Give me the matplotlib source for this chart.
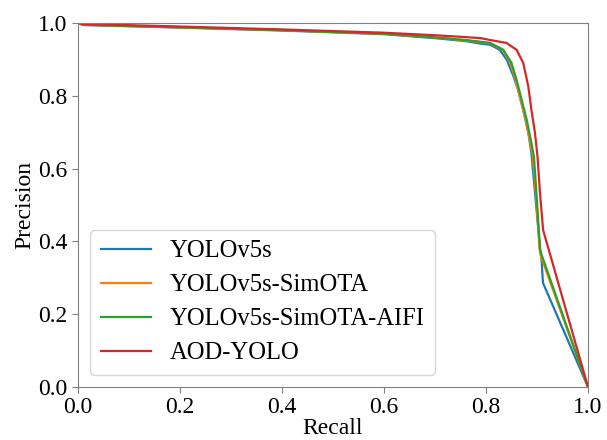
import numpy as np
import matplotlib.pyplot as plt

plt.rcParams['font.family'] = ['Liberation Serif', 'DejaVu Serif']

LABELS = ["YOLOv5s", "YOLOv5s-SimOTA", "YOLOv5s-SimOTA-AIFI", "AOD-YOLO"]
COLORS = ["#1f77b4", "#ff7f0e", "#2ca02c", "#d62728"]

# recall / precision pairs for each model
recall_v5s = [0.0, 0.01, 0.2, 0.4, 0.6, 0.7, 0.76, 0.79, 0.808, 0.827, 0.841, 0.854,
              0.863, 0.873, 0.883, 0.889, 0.897, 0.906, 0.909, 0.911, 0.912, 1.0]
prec_v5s = [1.0, 0.994, 0.987, 0.979, 0.969, 0.958, 0.950, 0.943, 0.940, 0.926, 0.898,
            0.853, 0.816, 0.761, 0.698, 0.643, 0.520, 0.380, 0.349, 0.300, 0.285, 0.0]

recall_simota = [0.0, 0.01, 0.2, 0.4, 0.6, 0.7, 0.76, 0.79, 0.808, 0.833, 0.848, 0.858,
                 0.868, 0.878, 0.887, 0.892, 0.899, 0.905, 0.908, 1.0]
prec_simota = [1.0, 0.995, 0.988, 0.980, 0.970, 0.960, 0.952, 0.947, 0.944, 0.926,
               0.890, 0.843, 0.788, 0.733, 0.670, 0.632, 0.510, 0.380, 0.358, 0.0]

recall_aifi = [0.0, 0.01, 0.2, 0.4, 0.6, 0.7, 0.76, 0.79, 0.808, 0.834, 0.850, 0.860,
               0.870, 0.880, 0.889, 0.894, 0.900, 0.906, 0.909, 1.0]
prec_aifi = [1.0, 0.995, 0.988, 0.980, 0.970, 0.960, 0.953, 0.948, 0.945, 0.926, 0.890,
             0.843, 0.788, 0.733, 0.670, 0.632, 0.510, 0.376, 0.363, 0.0]

recall_aod = [0.0, 0.01, 0.2, 0.4, 0.6, 0.7, 0.76, 0.79, 0.808, 0.840, 0.860, 0.873,
              0.883, 0.889, 0.896, 0.901, 0.906, 0.912, 1.0]
prec_aod = [1.0, 0.997, 0.990, 0.982, 0.973, 0.966, 0.961, 0.958, 0.953, 0.945, 0.926,
            0.890, 0.825, 0.761, 0.698, 0.633, 0.530, 0.431, 0.0]

recalls = [recall_v5s, recall_simota, recall_aifi, recall_aod]
precisions = [prec_v5s, prec_simota, prec_aifi, prec_aod]

fig = plt.figure(figsize=(6.07, 4.4), dpi=100)
ax = fig.add_axes([0.1285, 0.1205, 0.8402, 0.8275])

for r, p, lab, col in zip(recalls, precisions, LABELS, COLORS):
    ax.plot(r, p, color=col, lw=1.6, label=lab)

ax.set_xlim(0, 1)
ax.set_ylim(0, 1)
ax.set_xticks(np.arange(0, 1.01, 0.2))
ax.set_yticks(np.arange(0, 1.01, 0.2))
ax.tick_params(labelsize=17, color="#808080", length=4)
for s in ax.spines.values():
    s.set_color("#808080")
ax.set_xlabel("Recall", fontsize=17, labelpad=0)
ax.set_ylabel("Precision", fontsize=17, labelpad=2)

ax.legend(loc="lower left", fontsize=17.7, handlelength=2.05, borderaxespad=0.5,
          borderpad=0.42, labelspacing=0.48, handletextpad=0.78)

fig.savefig("out.png", dpi=100)
